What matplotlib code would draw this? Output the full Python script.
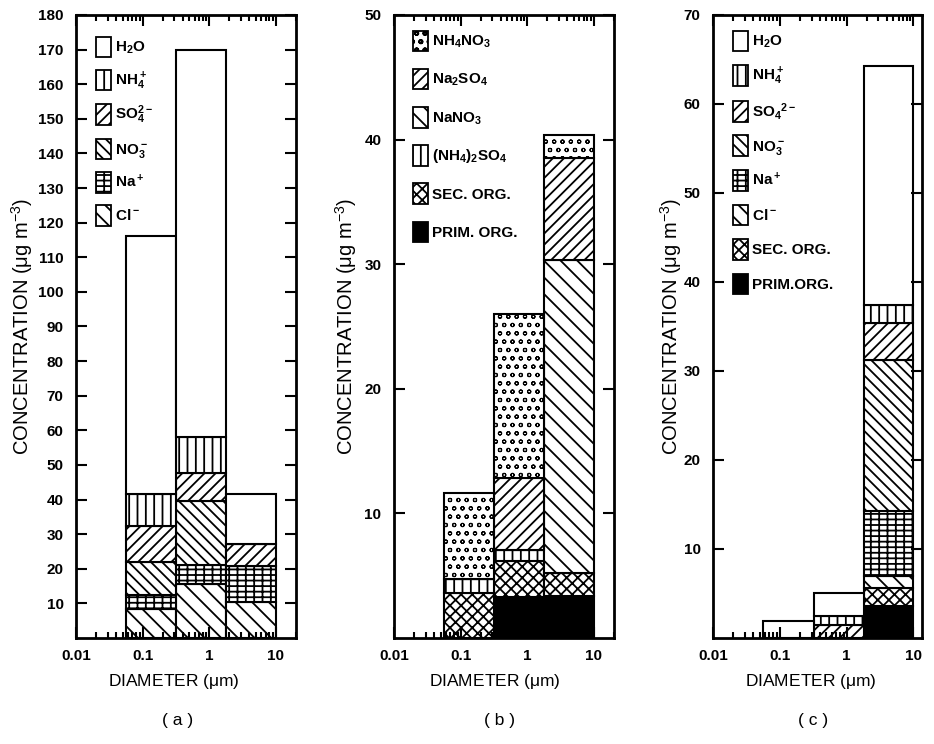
import matplotlib
matplotlib.use('Agg')
import matplotlib.pyplot as plt
from matplotlib.patches import Patch

plt.rcParams['font.family'] = ['Liberation Sans', 'DejaVu Sans']
plt.rcParams['mathtext.default'] = 'regular'
plt.rcParams['hatch.linewidth'] = 1.3
plt.rcParams['hatch.color'] = 'black'

# size bin edges (um), same three bins in every panel
bin_lo = [0.056, 0.32, 1.8]
bin_hi = [0.32, 1.8, 10.0]

# (a) measured ions, layer thickness in ug/m3, listed bottom -> top
a_names = ['Cl$^-$', 'Na$^+$', 'NO$_3^-$', 'SO$_4^{2-}$', 'NH$_4^+$', 'H$_2$O']
a_cl = [8.5, 15.5, 10.5]
a_na = [3.8, 5.5, 10.2]
a_no3 = [9.7, 18.7, 0.0]
a_so4 = [10.3, 8.0, 6.5]
a_nh4 = [9.4, 10.3, 0.0]
a_h2o = [74.3, 112.0, 14.5]

# (b) salts + organics, bottom -> top
b_names = ['PRIM. ORG.', 'SEC. ORG.', '(NH$_4$)$_2$SO$_4$', 'NaNO$_3$', 'Na$_2$SO$_4$', 'NH$_4$NO$_3$']
b_prim = [0.0, 3.3, 3.4]
b_sec = [3.6, 2.9, 1.8]
b_as = [1.1, 0.9, 0.0]
b_nano3 = [0.0, 0.0, 25.1]
b_na2so4 = [0.0, 5.7, 8.2]
b_nh4no3 = [6.9, 13.2, 1.9]

# (c) model ions + organics, bottom -> top
c_names = ['PRIM.ORG.', 'SEC. ORG.', 'Cl$^-$', 'Na$^+$', 'NO$_3^-$', 'SO$_4$$^{2-}$', 'NH$_4^+$', 'H$_2$O']
c_prim = [0.0, 0.0, 3.6]
c_sec = [0.0, 0.0, 2.0]
c_cl = [0.0, 0.0, 1.4]
c_na = [0.0, 0.0, 7.3]
c_no3 = [0.0, 0.0, 16.9]
c_so4 = [0.0, 1.5, 4.2]
c_nh4 = [0.0, 1.0, 2.0]
c_h2o = [1.9, 2.5, 26.9]

# hatch look per species type (hlw = hatch line width)
H_WATER = dict(hatch='', fc='white', hlw=1.3)
H_NH4 = dict(hatch='||', fc='white', hlw=1.3)
H_SO4 = dict(hatch='///', fc='white', hlw=1.3)
H_NO3 = dict(hatch='\\\\\\', fc='white', hlw=1.3)
H_NA = dict(hatch='++-', fc='white', hlw=1.3)
H_CL = dict(hatch='\\\\', fc='white', hlw=1.3)
H_SEC = dict(hatch='xxx', fc='white', hlw=1.3)
H_PRIM = dict(hatch='', fc='black', hlw=1.3)
H_DOTS = dict(hatch='oo', fc='white', hlw=0.8)

fs = 11


def draw_panel(ax, layers, styles, legend_names, legend_order, ymax, anchor, lspace):
    widths = [h - l for l, h in zip(bin_lo, bin_hi)]
    bottom = [0.0, 0.0, 0.0]
    for vals, st in zip(layers, styles):
        with plt.rc_context({'hatch.linewidth': st['hlw']}):
            ax.bar(bin_lo, vals, width=widths, bottom=bottom, align='edge',
                   facecolor=st['fc'], hatch=st['hatch'], edgecolor='black', linewidth=1.5)
        bottom = [b + v for b, v in zip(bottom, vals)]

    ax.set_xscale('log')
    ax.set_ylim(0, ymax)
    ax.set_yticks(range(10, ymax + 1, 10))
    ax.set_xticks([0.01, 0.1, 1, 10])
    ax.set_xticklabels(['0.01', '0.1', '1', '10'])
    ax.tick_params(which='both', direction='in', top=True, right=True, labelsize=fs, width=1.5)
    ax.tick_params(which='major', length=8)
    ax.tick_params(which='minor', length=4)
    ax.tick_params(axis='y', pad=9)
    ax.tick_params(axis='x', pad=8)
    for lab in ax.get_xticklabels() + ax.get_yticklabels():
        lab.set_fontweight('bold')
    for s in ax.spines.values():
        s.set_linewidth(2)

    handles = []
    for i in legend_order:
        st = styles[i]
        with plt.rc_context({'hatch.linewidth': st['hlw']}):
            handles.append(Patch(facecolor=st['fc'], hatch=st['hatch'], edgecolor='black',
                                 linewidth=1.3, label=legend_names[i]))
    leg = ax.legend(handles=handles, loc='upper left', bbox_to_anchor=anchor, frameon=False,
                    fontsize=fs, handlelength=1.0, handleheight=1.7, handletextpad=0.25,
                    labelspacing=lspace, borderpad=0, borderaxespad=0)
    for t in leg.get_texts():
        t.set_fontweight('bold')

    ax.set_ylabel('CONCENTRATION ($\\mu$g m$^{-3}$)', fontsize=14.5)
    ax.set_xlabel('DIAMETER ($\\mu$m)', fontsize=12.5)


fig = plt.figure(figsize=(9.34, 7.44), dpi=100)

ax_a = fig.add_axes([0.0814, 0.1425, 0.2355, 0.8374])
draw_panel(ax_a, [a_cl, a_na, a_no3, a_so4, a_nh4, a_h2o],
           [H_CL, H_NA, H_NO3, H_SO4, H_NH4, H_WATER],
           a_names, [5, 4, 3, 2, 1, 0], 180, (0.09, 0.965), 0.8)
ax_a.set_xlim(0.01, 20)
ax_a.yaxis.set_label_coords(-0.185, 0.5)
ax_a.xaxis.set_label_coords(0.445, -0.055)
ax_a.text(0.46, -0.132, '( a )', transform=ax_a.transAxes, ha='center', va='center', fontsize=12.5)

ax_b = fig.add_axes([0.4218, 0.1425, 0.2355, 0.8374])
draw_panel(ax_b, [b_prim, b_sec, b_as, b_nano3, b_na2so4, b_nh4no3],
           [H_PRIM, H_SEC, H_NH4, H_CL, H_SO4, H_DOTS],
           b_names, [5, 4, 3, 2, 1, 0], 50, (0.085, 0.975), 1.15)
ax_b.set_xlim(0.01, 20)
ax_b.yaxis.set_label_coords(-0.16, 0.5)
ax_b.xaxis.set_label_coords(0.46, -0.055)
ax_b.text(0.48, -0.132, '( b )', transform=ax_b.transAxes, ha='center', va='center', fontsize=12.5)

ax_c = fig.add_axes([0.7634, 0.1425, 0.2238, 0.8374])
draw_panel(ax_c, [c_prim, c_sec, c_cl, c_na, c_no3, c_so4, c_nh4, c_h2o],
           [H_PRIM, H_SEC, H_CL, H_NA, H_NO3, H_SO4, H_NH4, H_WATER],
           c_names, [7, 6, 5, 4, 3, 2, 1, 0], 70, (0.095, 0.975), 0.9)
ax_c.set_xlim(0.01, 13.5)
ax_c.yaxis.set_label_coords(-0.14, 0.5)
ax_c.xaxis.set_label_coords(0.47, -0.055)
ax_c.text(0.48, -0.132, '( c )', transform=ax_c.transAxes, ha='center', va='center', fontsize=12.5)

fig.savefig('out.png', dpi=100)
